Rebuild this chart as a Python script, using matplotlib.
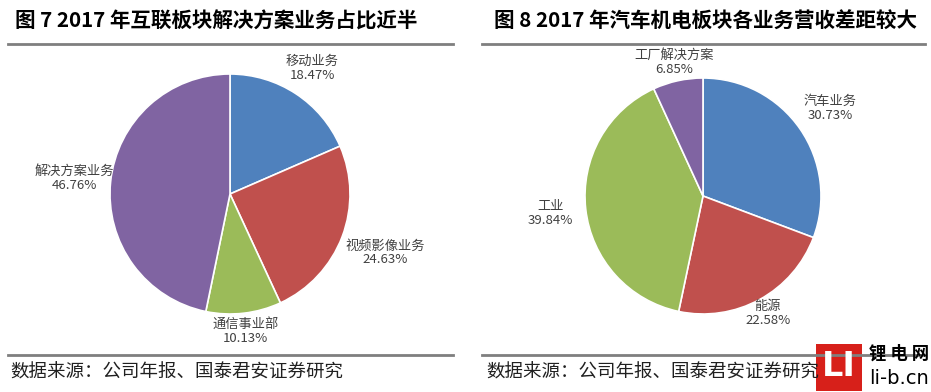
import numpy as np
import matplotlib.pyplot as plt
from matplotlib.patches import Rectangle

plt.rcParams['font.family'] = ['Noto Sans CJK SC', 'DejaVu Sans']

# 图7 数据
left_labels = ['移动业务', '视频影像业务', '通信事业部', '解决方案业务']
left_values = [18.47, 24.63, 10.13, 46.76]
left_dist = [1.25, 1.38, 1.15, 1.30]   # label distance (x radius)

# 图8 数据
right_labels = ['汽车业务', '能源', '工业', '工厂解决方案']
right_values = [30.73, 22.58, 39.84, 6.85]
right_dist = [1.31, 1.14, 1.30, 1.16]

colors = ['#4F81BD', '#C0504D', '#9BBB59', '#8064A2']

W, H = 931, 392
fig = plt.figure(figsize=(W / 100, H / 100), dpi=100)


def px_axes(cx, cy, r):
    # square axes of size 3r centred on pixel (cx, cy)
    s = 3 * r
    return fig.add_axes([(cx - s / 2) / W, (H - cy - s / 2) / H, s / W, s / H])


def draw_pie(ax, values, labels, dist):
    wedges, _ = ax.pie(values, colors=colors, startangle=90, counterclock=False,
                       wedgeprops=dict(edgecolor='white', linewidth=1.2))
    for w, lab, v, d in zip(wedges, labels, values, dist):
        ang = np.deg2rad((w.theta1 + w.theta2) / 2)
        ax.text(d * np.cos(ang), d * np.sin(ang), f'{lab}\n{v:.2f}%',
                ha='center', va='center', fontsize=9.5, color='#404040',
                linespacing=1.1)
    ax.set_xlim(-1.5, 1.5)
    ax.set_ylim(-1.5, 1.5)
    ax.set_aspect('equal')
    ax.axis('off')


ax1 = px_axes(230, 194, 120)
draw_pie(ax1, left_values, left_labels, left_dist)

ax2 = px_axes(703, 196, 118)
draw_pie(ax2, right_values, right_labels, right_dist)

# titles and rules
fig.text(15 / W, 1 - 21 / H, '图 7 2017 年互联板块解决方案业务占比近半', fontsize=14.8,
         fontweight='bold', va='center', ha='left', color='black')
fig.text(494 / W, 1 - 21 / H, '图 8 2017 年汽车机电板块各业务营收差距较大', fontsize=14.8,
         fontweight='bold', va='center', ha='left', color='black')

for x0, x1 in [(8, 453), (482, 925)]:
    for y in (44, 355):
        fig.add_artist(plt.Line2D([x0 / W, x1 / W], [1 - y / H, 1 - y / H],
                                  color='#7f7f7f', linewidth=2))

src = '数据来源：公司年报、国泰君安证券研究'
fig.text(10 / W, 1 - 373 / H, src, fontsize=13.3, va='center', ha='left', color='#202020')
fig.text(486 / W, 1 - 373 / H, src, fontsize=13.3, va='center', ha='left', color='#202020')

# watermark
fig.add_artist(Rectangle((816 / W, 1 - 391 / H), 46 / W, 47 / H,
                         facecolor='#D7201A', edgecolor='none'))
fig.text(839 / W, 1 - 367 / H, 'LI', fontsize=24, fontweight='bold', color='white',
         ha='center', va='center', family='DejaVu Sans')
fig.text(899 / W, 1 - 354 / H, '锂 电 网', fontsize=12.5, fontweight='bold',
         ha='center', va='center', color='black')
fig.text(899 / W, 1 - 378 / H, 'li-b.cn', fontsize=14, ha='center', va='center',
         color='black', family='DejaVu Sans')

fig.savefig('out.png', dpi=100)
